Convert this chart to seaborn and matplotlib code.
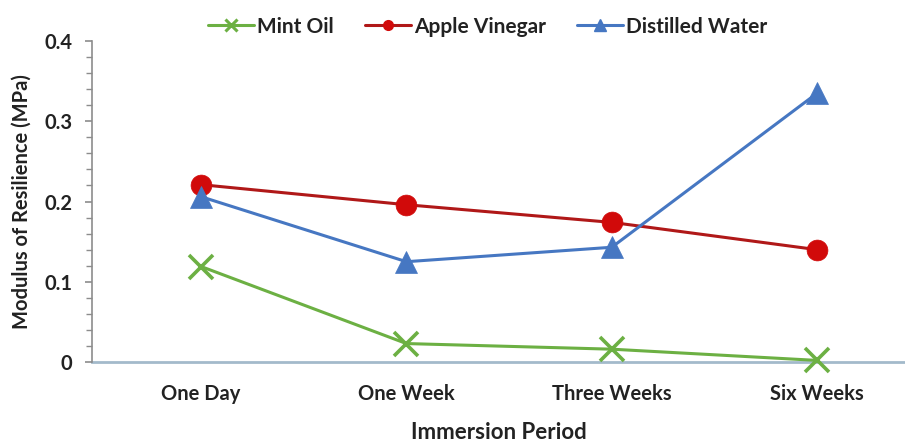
import matplotlib
matplotlib.use("Agg")
import matplotlib.pyplot as plt
from matplotlib.lines import Line2D
from matplotlib.ticker import MultipleLocator, FuncFormatter
import seaborn as sns
import pandas as pd

categories = ["One Day", "One Week", "Three Weeks", "Six Weeks"]
mint_oil = [0.119, 0.023, 0.016, 0.002]
apple_vinegar = [0.221, 0.196, 0.174, 0.140]
distilled_water = [0.206, 0.125, 0.143, 0.335]
series_names = ["Mint Oil", "Apple Vinegar", "Distilled Water"]
y_ticks = [0, 0.1, 0.2, 0.3, 0.4]

sns.set_theme(style="white")
plt.rcParams["font.family"] = ["Lato", "DejaVu Sans"]

fig = plt.figure(figsize=(9.05, 4.43), dpi=100)
ax = fig.add_axes([0.1017, 0.1828, 0.8983, 0.7246])

green = "#6CB043"
red_line = "#B01818"
red_mk = "#D10A0A"
blue = "#4677C2"

styles = {
    "Mint Oil": dict(color=green, marker="x", markersize=17, markeredgewidth=2.6,
                     markeredgecolor=green, linewidth=2.2),
    "Apple Vinegar": dict(color=red_line, marker="o", markersize=15,
                          markerfacecolor=red_mk, markeredgecolor=red_mk,
                          markeredgewidth=0.5, linewidth=2.2),
    "Distilled Water": dict(color=blue, marker="^", markersize=16,
                            markerfacecolor=blue, markeredgecolor=blue,
                            markeredgewidth=0.5, linewidth=2.2),
}

data = {"Mint Oil": mint_oil, "Apple Vinegar": apple_vinegar, "Distilled Water": distilled_water}
for name in series_names:
    df = pd.DataFrame({"period": categories, "value": data[name]})
    sns.lineplot(data=df, x="period", y="value", ax=ax, sort=False, clip_on=False, **styles[name])

ax.set_xlim(-0.531, 3.428)
ax.set_ylim(0, 0.4)
ax.set_yticks(y_ticks)
ax.yaxis.set_minor_locator(MultipleLocator(0.02))
ax.yaxis.set_major_formatter(FuncFormatter(lambda v, p: "0" if v == 0 else f"{v:.1f}"))
ax.set_xticks(range(len(categories)))
ax.set_xticklabels(categories)

for s in ["top", "right"]:
    ax.spines[s].set_visible(False)
ax.spines["left"].set_color("#8C8C8C")
ax.spines["left"].set_linewidth(1.2)
ax.spines["bottom"].set_color("#A3BACB")
ax.spines["bottom"].set_linewidth(2)
ax.spines["bottom"].set_zorder(0.5)

ax.tick_params(axis="y", which="major", direction="out", length=5, width=1.2, color="#8C8C8C",
               left=True, labelsize=14.5, pad=9)
ax.tick_params(axis="y", which="minor", direction="out", length=4, width=1.0, color="#8C8C8C", left=True)
ax.tick_params(axis="x", which="both", length=0, labelsize=14.5, pad=16)
for lab in ax.get_xticklabels() + ax.get_yticklabels():
    lab.set_fontweight("bold")
    lab.set_color("#222222")

ax.set_xlabel("Immersion Period", fontsize=16, fontweight="bold", color="#222222", labelpad=13)
ax.set_ylabel("Modulus of Resilience (MPa)", fontsize=14.5, fontweight="bold", color="#222222", labelpad=9)

handles = [
    Line2D([], [], color=green, marker="x", markersize=9, markeredgewidth=2.2, linewidth=2.2),
    Line2D([], [], color=red_line, marker="o", markersize=7, markerfacecolor=red_mk,
           markeredgecolor=red_mk, linewidth=2.2),
    Line2D([], [], color=blue, marker="^", markersize=8, markerfacecolor=blue,
           markeredgecolor=blue, linewidth=2.2),
]
leg = fig.legend(handles, series_names, loc="center", bbox_to_anchor=(0.539, 0.94), ncol=3,
                 frameon=False, handlelength=2.2, handletextpad=0.15, columnspacing=1.5,
                 prop={"weight": "bold", "size": 15})
for t in leg.get_texts():
    t.set_color("#222222")

fig.savefig("out.png", dpi=100)
